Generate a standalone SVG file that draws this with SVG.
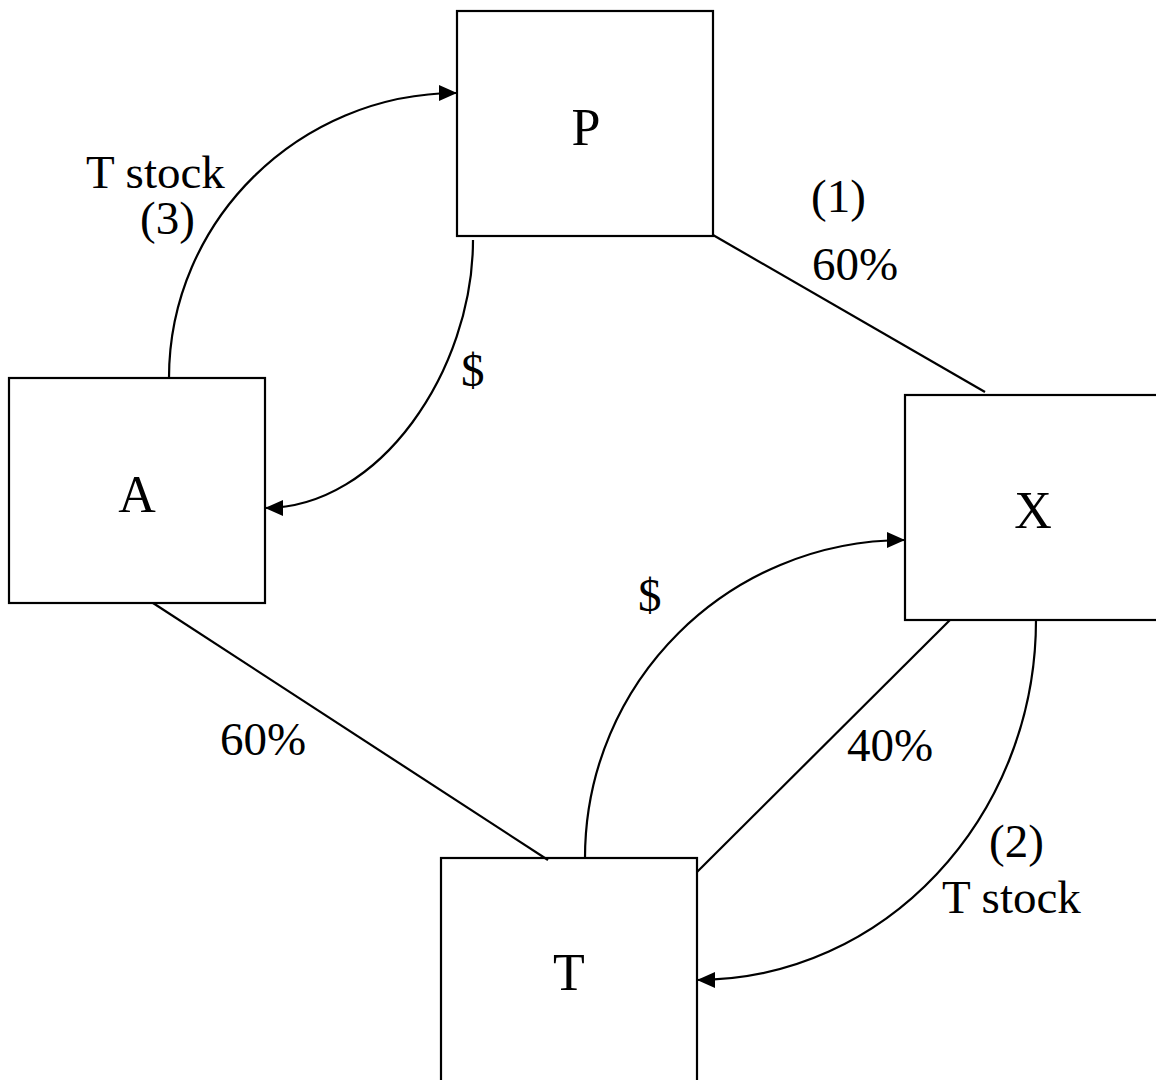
<svg xmlns="http://www.w3.org/2000/svg" width="1156" height="1080" viewBox="0 0 1156 1080">
<style>
.box{fill:#fff;stroke:#000;stroke-width:2.2}
.ln{fill:none;stroke:#000;stroke-width:2.2}
.nl{font-family:"Liberation Serif","Times New Roman",serif;font-size:52px;fill:#000;text-anchor:middle}
.lb{font-family:"Liberation Serif","Times New Roman",serif;font-size:47px;fill:#000}
</style>
<defs>
<marker id="ah" markerUnits="userSpaceOnUse" markerWidth="20" markerHeight="16" refX="18" refY="8" orient="auto">
<path d="M0,0 L18,8 L0,16 Z" fill="#000"/>
</marker>
</defs>
<rect width="1156" height="1080" fill="#fff"/>
<g id="P"><rect class="box" x="457" y="11" width="256" height="225"/><text class="nl" x="586" y="145">P</text></g>
<g id="A"><rect class="box" x="9" y="378" width="256" height="225"/><text class="nl" x="137" y="512">A</text></g>
<g id="X"><rect class="box" x="905" y="395" width="256" height="225"/><text class="nl" x="1033" y="528">X</text></g>
<g id="T"><rect class="box" x="441" y="858" width="256" height="240"/><text class="nl" x="569" y="990">T</text></g>
<g id="connectors">
<line class="ln" x1="713" y1="235" x2="985" y2="392"/>
<line class="ln" x1="153" y1="603" x2="548" y2="860"/>
<line class="ln" x1="950" y1="620" x2="697" y2="872"/>
<path class="ln" d="M169,378 C169,221 299,93 457,93" marker-end="url(#ah)"/>
<path class="ln" d="M473,240 C473,370 380,508 265,508" marker-end="url(#ah)"/>
<path class="ln" d="M585,858 C585,682 728,540 905,540" marker-end="url(#ah)"/>
<path class="ln" d="M1036,620 C1036,818 884,980 697,980" marker-end="url(#ah)"/>
</g>
<g id="labels">
<text class="lb" x="86" y="188">T stock</text>
<text class="lb" x="140" y="234">(3)</text>
<text class="lb" x="811" y="212">(1)</text>
<text class="lb" x="812" y="280">60%</text>
<text class="lb" x="461" y="386">$</text>
<text class="lb" x="638" y="611">$</text>
<text class="lb" x="220" y="755">60%</text>
<text class="lb" x="847" y="761">40%</text>
<text class="lb" x="989" y="857">(2)</text>
<text class="lb" x="942" y="913">T stock</text>
</g>
</svg>
